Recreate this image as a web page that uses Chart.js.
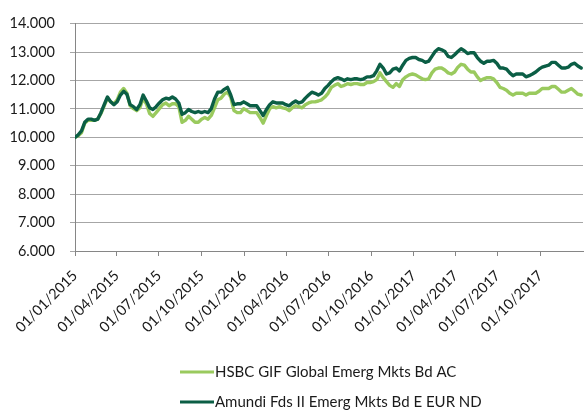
<!DOCTYPE html>
<html>
<head>
<meta charset="utf-8">
<script src="https://cdn.jsdelivr.net/npm/chart.js@4"></script>
<style>
  html,body{margin:0;padding:0;background:#fff;}
  #wrap{width:585px;height:414px;}
</style>
</head>
<body>
<div id="wrap"><canvas id="chart" width="585" height="414"></canvas></div>
<script>
// weekly closes, in thousands, starting 01/01/2015 (one value per week)
const stepDays = 7;
const hsbc = [
  10.00,10.06,10.16,10.50,10.60,10.60,10.60,10.64,10.84,11.11,11.38,11.25,11.18,11.32,11.59,11.72,
  11.55,11.11,11.01,10.94,11.04,11.38,11.18,10.84,10.74,10.87,11.01,11.15,11.21,11.11,11.18,11.18,
  11.08,10.53,10.60,10.74,10.64,10.53,10.53,10.64,10.70,10.64,10.77,11.04,11.32,11.38,11.52,11.59,
  11.42,10.94,10.87,10.87,11.01,10.94,10.87,10.87,10.87,10.70,10.50,10.77,11.01,11.08,11.04,11.08,
  11.04,11.01,10.94,11.04,11.11,11.08,11.04,11.15,11.21,11.25,11.25,11.28,11.32,11.42,11.55,11.76,
  11.83,11.89,11.79,11.83,11.89,11.86,11.89,11.89,11.86,11.86,11.93,11.93,11.96,12.03,12.27,12.10,
  11.96,11.83,11.76,11.89,11.79,12.03,12.13,12.20,12.23,12.20,12.13,12.06,12.03,12.06,12.27,12.40,
  12.44,12.44,12.37,12.27,12.23,12.30,12.47,12.57,12.54,12.40,12.30,12.30,12.13,12.00,12.06,12.10,
  12.10,12.06,11.93,11.76,11.72,11.66,11.55,11.49,11.55,11.55,11.55,11.49,11.55,11.55,11.55,11.62,
  11.72,11.72,11.72,11.79,11.79,11.69,11.59,11.59,11.66,11.72,11.62,11.52,11.49
];
const amundi = [
  10.00,10.09,10.23,10.53,10.64,10.64,10.60,10.64,10.87,11.15,11.42,11.25,11.15,11.25,11.49,11.62,
  11.52,11.15,11.08,10.98,11.15,11.49,11.28,11.04,10.98,11.08,11.21,11.32,11.38,11.35,11.42,11.35,
  11.21,10.81,10.87,10.98,10.91,10.87,10.91,10.87,10.91,10.87,11.01,11.35,11.59,11.59,11.69,11.76,
  11.49,11.15,11.18,11.18,11.25,11.18,11.11,11.11,11.11,10.94,10.77,10.98,11.15,11.25,11.21,11.21,
  11.21,11.15,11.11,11.21,11.28,11.21,11.25,11.38,11.49,11.59,11.55,11.49,11.55,11.72,11.83,11.96,
  12.06,12.10,12.06,12.00,12.06,12.03,12.06,12.06,12.03,12.06,12.13,12.13,12.17,12.34,12.57,12.44,
  12.23,12.27,12.40,12.44,12.34,12.54,12.71,12.78,12.81,12.81,12.74,12.71,12.64,12.68,12.85,13.02,
  13.12,13.08,13.02,12.85,12.81,12.91,13.02,13.12,13.05,12.95,12.98,12.98,12.81,12.68,12.61,12.68,
  12.68,12.71,12.61,12.44,12.44,12.40,12.27,12.17,12.23,12.23,12.23,12.13,12.17,12.23,12.30,12.40,
  12.47,12.51,12.54,12.64,12.64,12.54,12.44,12.44,12.47,12.57,12.61,12.51,12.44
];
// quarter starts, in days from 01/01/2015
const tickDays = [0,90,181,273,365,456,547,639,731,821,912,1004];
const tickLabels = ["01/01/2015","01/04/2015","01/07/2015","01/10/2015","01/01/2016","01/04/2016",
  "01/07/2016","01/10/2016","01/01/2017","01/04/2017","01/07/2017","01/10/2017"];
const lastDay = 1096;

const seriesNames = ["HSBC GIF Global Emerg Mkts Bd AC","Amundi Fds II Emerg Mkts Bd E EUR ND"];
const seriesColors = ["#9ACA5E","#0B5E45"];

const FONT = "Lato";
const txtColor = "#1a1a1a";

function toPoints(arr){
  return arr.map((v,i)=>({x:i*stepDays,y:v}));
}

// legend drawn as two stacked rows, left aligned
const stackedLegend = {
  id:"stackedLegend",
  afterDraw(chart){
    const ctx=chart.ctx;
    ctx.save();
    ctx.font=`15px ${FONT}`;
    ctx.textBaseline="middle";
    ctx.fillStyle=txtColor;
    seriesNames.forEach((name,i)=>{
      const y=372+i*30;
      ctx.strokeStyle=seriesColors[i];
      ctx.lineWidth=3;
      ctx.beginPath();
      ctx.moveTo(180,y);
      ctx.lineTo(214,y);
      ctx.stroke();
      ctx.fillText(name,215,y);
    });
    ctx.restore();
  }
};

new Chart(document.getElementById("chart"),{
  type:"line",
  data:{
    datasets:[
      { label:seriesNames[0], data:toPoints(hsbc), borderColor:seriesColors[0], borderWidth:3.4, order:1 },
      { label:seriesNames[1], data:toPoints(amundi), borderColor:seriesColors[1], borderWidth:3.4, order:0 }
    ]
  },
  options:{
    responsive:false,
    animation:false,
    elements:{ point:{radius:0}, line:{tension:0, borderJoinStyle:"round", borderCapStyle:"round"} },
    layout:{ padding:{ top:16, right:2, left:0, bottom:0 } },
    plugins:{ legend:{display:false}, tooltip:{enabled:false} },
    scales:{
      x:{
        type:"linear",
        min:0,
        max:lastDay,
        afterBuildTicks(scale){ scale.ticks=tickDays.map(v=>({value:v})); },
        afterFit(scale){ scale.height=163; },
        grid:{ drawOnChartArea:false, drawTicks:true, tickLength:5, color:"#868686" },
        border:{ display:true, color:"#868686", width:1 },
        ticks:{
          autoSkip:false, maxRotation:45, minRotation:45, padding:11,
          color:txtColor, font:{family:FONT,size:14.5},
          callback:(v)=>tickLabels[tickDays.indexOf(v)]
        }
      },
      y:{
        min:6, max:14,
        afterFit(scale){ scale.width=75; },
        grid:{ color:"#A6A6A6", tickLength:5, lineWidth:1 },
        border:{ display:true, color:"#868686", width:1 },
        ticks:{
          stepSize:1, padding:15, color:txtColor, font:{family:FONT,size:14.5},
          callback:(v)=>v.toFixed(3)
        }
      }
    }
  },
  plugins:[stackedLegend]
});
</script>
</body>
</html>
